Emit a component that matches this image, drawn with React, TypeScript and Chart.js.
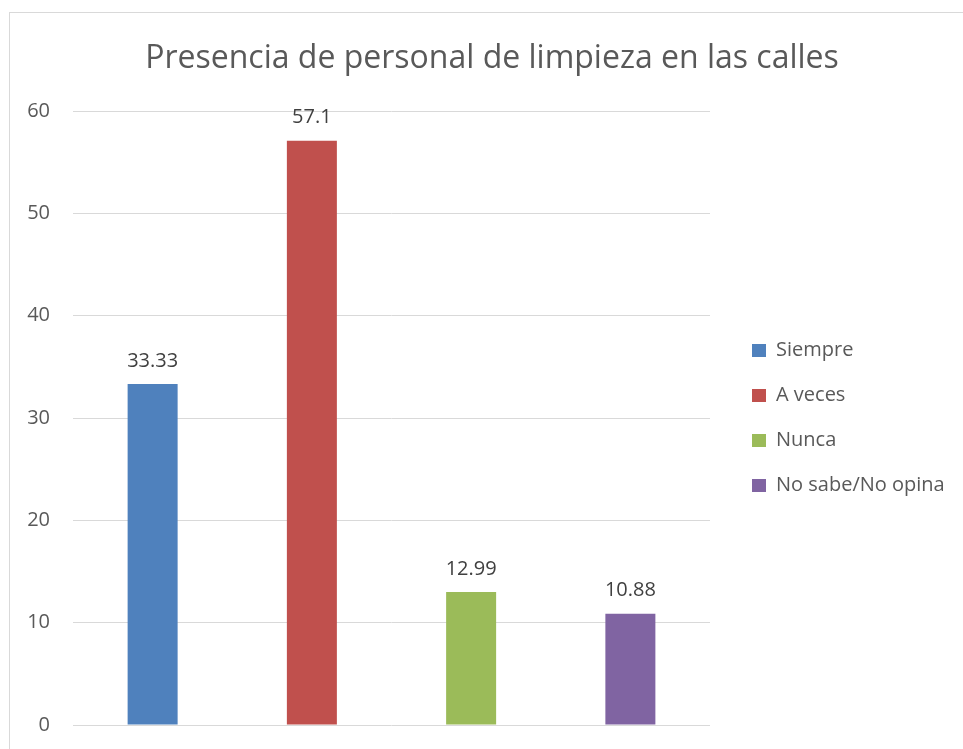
import React, { useEffect, useRef } from "react";
import { Chart, registerables } from "chart.js";

Chart.register(...registerables);

const chartTitle = "Presencia de personal de limpieza en las calles";
const categories = [""];
const seriesNames = ["Siempre", "A veces", "Nunca", "No sabe/No opina"];
const seriesValues = [33.33, 57.1, 12.99, 10.88];
const seriesColors = ["#4F81BD", "#C0504D", "#9BBB59", "#8064A2"];
const yMin = 0;
const yMax = 60;
const yStep = 10;

const FONT = "'Open Sans', sans-serif";
const TEXT = "#595959";
const LEGEND_SIZE = 20;
const LEGEND_PAD = 25;
const LEGEND_BOX = 14;

const valueLabels = {
  id: "valueLabels",
  afterDatasetsDraw(chart: any) {
    const ctx = chart.ctx;
    ctx.save();
    ctx.font = `20px ${FONT}`;
    ctx.fillStyle = "#404040";
    ctx.textAlign = "center";
    ctx.textBaseline = "middle";
    chart.data.datasets.forEach((ds: any, i: number) => {
      const meta = chart.getDatasetMeta(i);
      meta.data.forEach((el: any, j: number) => {
        const v = ds.data[j];
        if (v == null) return;
        ctx.fillText(String(v), el.x, el.y - 23);
      });
    });
    ctx.restore();
  },
};

export default function App() {
  const ref = useRef<HTMLCanvasElement | null>(null);

  useEffect(() => {
    if (!ref.current) return;
    const chart = new Chart(ref.current, {
      type: "bar",
      data: {
        labels: categories,
        datasets: seriesNames.map((name, i) => ({
          label: name,
          data: [seriesValues[i]],
          backgroundColor: seriesColors[i],
          borderWidth: 0,
          categoryPercentage: 1,
          barPercentage: 0.314,
        })),
      },
      options: {
        responsive: false,
        animation: false,
        events: [],
        layout: { padding: { left: 21, right: 0, top: 0, bottom: 24 } },
        scales: {
          x: { display: false },
          y: {
            min: yMin,
            max: yMax,
            ticks: {
              stepSize: yStep,
              padding: 23,
              color: TEXT,
              font: { family: FONT, size: 20 },
            },
            grid: { color: "#D9D9D9", lineWidth: 1, drawTicks: false },
            border: { display: false },
            afterFit: (s: any) => {
              s.width = 52;
              s.paddingTop = 0;
              s.paddingBottom = 0;
            },
          },
          gapRight: {
            type: "linear",
            axis: "y",
            position: "right",
            weight: 0,
            display: true,
            ticks: { display: false },
            grid: { display: false, drawTicks: false },
            border: { display: false },
            afterFit: (s: any) => {
              s.width = 17;
            },
          },
          outerRight: {
            type: "linear",
            axis: "y",
            position: "right",
            weight: 2000,
            display: true,
            ticks: { display: false },
            grid: { display: false, drawTicks: false },
            border: { display: false },
            afterFit: (s: any) => {
              const ctx = s.ctx;
              ctx.save();
              ctx.font = `normal ${LEGEND_SIZE}px ${FONT}`;
              const tw = Math.max(...seriesNames.map((n) => ctx.measureText(n).width));
              ctx.restore();
              const lw = LEGEND_PAD + LEGEND_BOX + LEGEND_SIZE / 2 + tw + 10;
              s.width = Math.max(0, 963 - 710 - 17 - lw);
            },
          },
        } as any,
        plugins: {
          title: {
            display: true,
            text: chartTitle,
            color: TEXT,
            font: { family: FONT, size: 32, weight: "normal" },
            padding: { top: 40, bottom: 32.6 },
          },
          legend: {
            display: true,
            position: "right",
            fullSize: false,
            maxWidth: 400,
            labels: {
              boxWidth: LEGEND_BOX,
              boxHeight: 13,
              padding: LEGEND_PAD,
              color: TEXT,
              font: { family: FONT, size: LEGEND_SIZE },
            },
          },
          tooltip: { enabled: false },
        },
      } as any,
      plugins: [valueLabels],
    });
    return () => chart.destroy();
  }, []);

  return (
    <div
      style={{
        position: "absolute",
        left: 0,
        top: 0,
        width: 963,
        height: 749,
        overflow: "hidden",
        background: "#fff",
      }}
    >
      <div
        style={{
          position: "absolute",
          left: 9,
          top: 12,
          width: 1000,
          height: 1000,
          border: "1px solid #D9D9D9",
        }}
      />
      <canvas
        ref={ref}
        width={963}
        height={749}
        style={{ position: "absolute", left: 0, top: 0, width: 963, height: 749 }}
      />
    </div>
  );
}
